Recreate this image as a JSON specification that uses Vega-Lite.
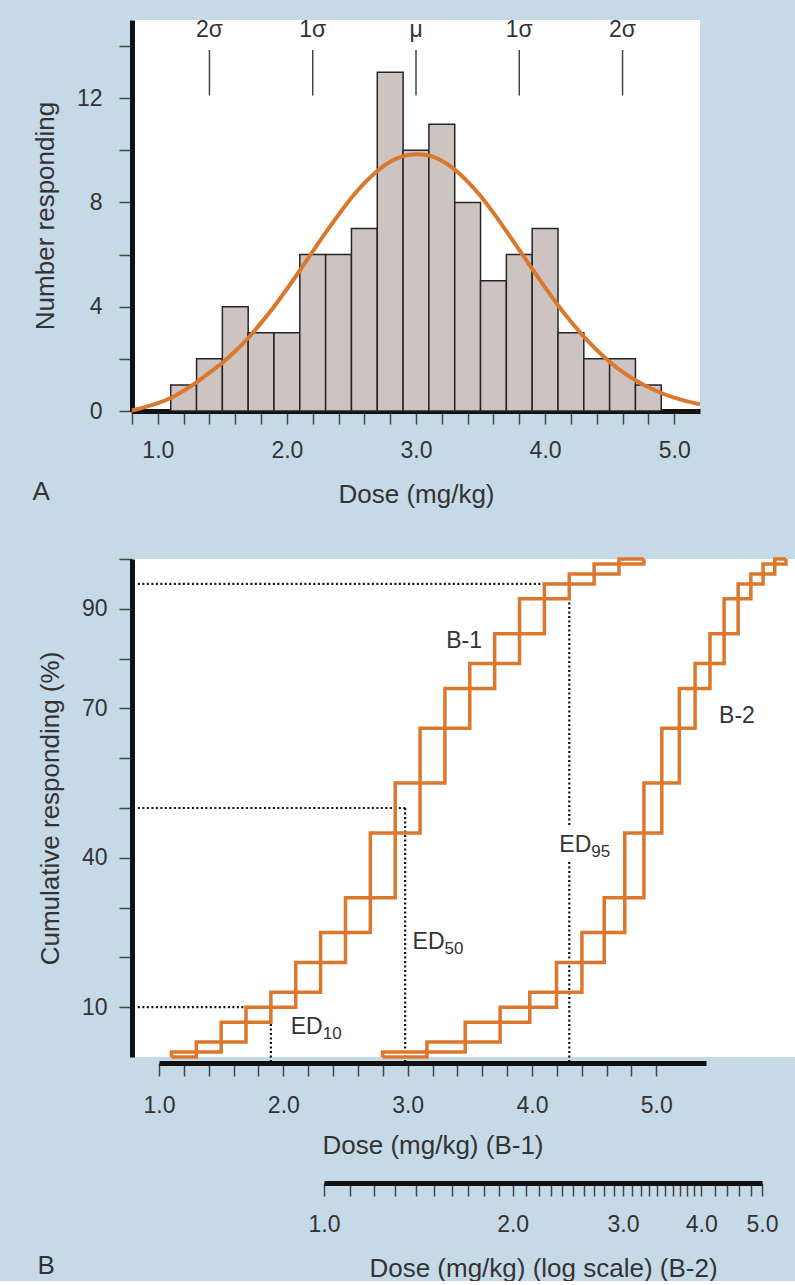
{
  "$schema": "https://vega.github.io/schema/vega-lite/v6.json",
  "background": "#c6d9e7",
  "padding": {"left": 32, "top": 19, "right": 0, "bottom": 0},
  "spacing": 41,
  "config": {
    "font": "Liberation Sans",
    "view": {"stroke": null, "fill": "white"},
    "text": {"font": "Liberation Sans", "color": "#333"},
    "title": {"font": "Liberation Sans", "fontWeight": "normal", "color": "#333", "fontSize": 26},
    "axis": {
      "domainColor": "#111", "domainWidth": 5, "tickColor": "#444", "tickWidth": 1.5, "tickSize": 13,
      "labelFontSize": 23, "titleFontSize": 26, "labelColor": "#333", "titleColor": "#333",
      "labelFont": "Liberation Sans", "titleFont": "Liberation Sans", "titleFontWeight": "normal",
      "grid": false, "labelFlush": false, "labelOverlap": false, "tickCount": 200
    }
  },
  "datasets": {
    "hist": [
      {"lo": 1.1, "hi": 1.3, "n": 1}, {"lo": 1.3, "hi": 1.5, "n": 2}, {"lo": 1.5, "hi": 1.7, "n": 4},
      {"lo": 1.7, "hi": 1.9, "n": 3}, {"lo": 1.9, "hi": 2.1, "n": 3}, {"lo": 2.1, "hi": 2.3, "n": 6},
      {"lo": 2.3, "hi": 2.5, "n": 6}, {"lo": 2.5, "hi": 2.7, "n": 7}, {"lo": 2.7, "hi": 2.9, "n": 13},
      {"lo": 2.9, "hi": 3.1, "n": 10}, {"lo": 3.1, "hi": 3.3, "n": 11}, {"lo": 3.3, "hi": 3.5, "n": 8},
      {"lo": 3.5, "hi": 3.7, "n": 5}, {"lo": 3.7, "hi": 3.9, "n": 6}, {"lo": 3.9, "hi": 4.1, "n": 7},
      {"lo": 4.1, "hi": 4.3, "n": 3}, {"lo": 4.3, "hi": 4.5, "n": 2}, {"lo": 4.5, "hi": 4.7, "n": 2},
      {"lo": 4.7, "hi": 4.9, "n": 1}
    ],
    "curve": [
      {"x": 0.8, "y": 0.02}, {"x": 0.9, "y": 0.15}, {"x": 1.0, "y": 0.3}, {"x": 1.1, "y": 0.5},
      {"x": 1.2, "y": 0.78}, {"x": 1.3, "y": 1.1}, {"x": 1.4, "y": 1.47}, {"x": 1.5, "y": 1.85},
      {"x": 1.6, "y": 2.29}, {"x": 1.7, "y": 2.8}, {"x": 1.8, "y": 3.38}, {"x": 1.9, "y": 4.0},
      {"x": 2.0, "y": 4.68}, {"x": 2.1, "y": 5.39}, {"x": 2.2, "y": 6.12}, {"x": 2.3, "y": 6.84},
      {"x": 2.4, "y": 7.53}, {"x": 2.5, "y": 8.18}, {"x": 2.6, "y": 8.74}, {"x": 2.7, "y": 9.21},
      {"x": 2.8, "y": 9.56}, {"x": 2.9, "y": 9.78}, {"x": 3.0, "y": 9.85}, {"x": 3.1, "y": 9.8},
      {"x": 3.2, "y": 9.6}, {"x": 3.3, "y": 9.26}, {"x": 3.4, "y": 8.8}, {"x": 3.5, "y": 8.25},
      {"x": 3.6, "y": 7.6}, {"x": 3.7, "y": 6.9}, {"x": 3.8, "y": 6.18}, {"x": 3.9, "y": 5.45},
      {"x": 4.0, "y": 4.74}, {"x": 4.1, "y": 4.06}, {"x": 4.2, "y": 3.43}, {"x": 4.3, "y": 2.85},
      {"x": 4.4, "y": 2.34}, {"x": 4.5, "y": 1.89}, {"x": 4.6, "y": 1.5}, {"x": 4.7, "y": 1.18},
      {"x": 4.8, "y": 0.91}, {"x": 4.9, "y": 0.69}, {"x": 5.0, "y": 0.51}, {"x": 5.1, "y": 0.37},
      {"x": 5.2, "y": 0.26}
    ],
    "sigma": [
      {"x": 1.4, "label": "2σ"}, {"x": 2.2, "label": "1σ"}, {"x": 3.0, "label": "μ"},
      {"x": 3.8, "label": "1σ"}, {"x": 4.6, "label": "2σ"}
    ],
    "b1": [
      {"s": "L", "i": 0, "x": 1.1, "y": 0}, {"s": "L", "i": 1, "x": 1.1, "y": 1}, {"s": "L", "i": 2, "x": 1.3, "y": 3},
      {"s": "L", "i": 3, "x": 1.5, "y": 7}, {"s": "L", "i": 4, "x": 1.7, "y": 10}, {"s": "L", "i": 5, "x": 1.9, "y": 13},
      {"s": "L", "i": 6, "x": 2.1, "y": 19}, {"s": "L", "i": 7, "x": 2.3, "y": 25}, {"s": "L", "i": 8, "x": 2.5, "y": 32},
      {"s": "L", "i": 9, "x": 2.7, "y": 45}, {"s": "L", "i": 10, "x": 2.9, "y": 55}, {"s": "L", "i": 11, "x": 3.1, "y": 66},
      {"s": "L", "i": 12, "x": 3.3, "y": 74}, {"s": "L", "i": 13, "x": 3.5, "y": 79}, {"s": "L", "i": 14, "x": 3.7, "y": 85},
      {"s": "L", "i": 15, "x": 3.9, "y": 92}, {"s": "L", "i": 16, "x": 4.1, "y": 95}, {"s": "L", "i": 17, "x": 4.3, "y": 97},
      {"s": "L", "i": 18, "x": 4.5, "y": 99}, {"s": "L", "i": 19, "x": 4.7, "y": 100}, {"s": "L", "i": 20, "x": 4.9, "y": 100},
      {"s": "R", "i": 0, "x": 1.1, "y": 0}, {"s": "R", "i": 1, "x": 1.3, "y": 1}, {"s": "R", "i": 2, "x": 1.5, "y": 3},
      {"s": "R", "i": 3, "x": 1.7, "y": 7}, {"s": "R", "i": 4, "x": 1.9, "y": 10}, {"s": "R", "i": 5, "x": 2.1, "y": 13},
      {"s": "R", "i": 6, "x": 2.3, "y": 19}, {"s": "R", "i": 7, "x": 2.5, "y": 25}, {"s": "R", "i": 8, "x": 2.7, "y": 32},
      {"s": "R", "i": 9, "x": 2.9, "y": 45}, {"s": "R", "i": 10, "x": 3.1, "y": 55}, {"s": "R", "i": 11, "x": 3.3, "y": 66},
      {"s": "R", "i": 12, "x": 3.5, "y": 74}, {"s": "R", "i": 13, "x": 3.7, "y": 79}, {"s": "R", "i": 14, "x": 3.9, "y": 85},
      {"s": "R", "i": 15, "x": 4.1, "y": 92}, {"s": "R", "i": 16, "x": 4.3, "y": 95}, {"s": "R", "i": 17, "x": 4.5, "y": 97},
      {"s": "R", "i": 18, "x": 4.7, "y": 99}, {"s": "R", "i": 19, "x": 4.9, "y": 100}
    ],
    "b2": [
      {"s": "L", "i": 0, "x": 1.24, "y": 0}, {"s": "L", "i": 1, "x": 1.24, "y": 1}, {"s": "L", "i": 2, "x": 1.46, "y": 3},
      {"s": "L", "i": 3, "x": 1.68, "y": 7}, {"s": "L", "i": 4, "x": 1.91, "y": 10}, {"s": "L", "i": 5, "x": 2.13, "y": 13},
      {"s": "L", "i": 6, "x": 2.35, "y": 19}, {"s": "L", "i": 7, "x": 2.58, "y": 25}, {"s": "L", "i": 8, "x": 2.8, "y": 32},
      {"s": "L", "i": 9, "x": 3.02, "y": 45}, {"s": "L", "i": 10, "x": 3.24, "y": 55}, {"s": "L", "i": 11, "x": 3.46, "y": 66},
      {"s": "L", "i": 12, "x": 3.69, "y": 74}, {"s": "L", "i": 13, "x": 3.91, "y": 79}, {"s": "L", "i": 14, "x": 4.13, "y": 85},
      {"s": "L", "i": 15, "x": 4.35, "y": 92}, {"s": "L", "i": 16, "x": 4.58, "y": 95}, {"s": "L", "i": 17, "x": 4.8, "y": 97},
      {"s": "L", "i": 18, "x": 5.02, "y": 99}, {"s": "L", "i": 19, "x": 5.24, "y": 100}, {"s": "L", "i": 20, "x": 5.46, "y": 100},
      {"s": "R", "i": 0, "x": 1.24, "y": 0}, {"s": "R", "i": 1, "x": 1.46, "y": 1}, {"s": "R", "i": 2, "x": 1.68, "y": 3},
      {"s": "R", "i": 3, "x": 1.91, "y": 7}, {"s": "R", "i": 4, "x": 2.13, "y": 10}, {"s": "R", "i": 5, "x": 2.35, "y": 13},
      {"s": "R", "i": 6, "x": 2.58, "y": 19}, {"s": "R", "i": 7, "x": 2.8, "y": 25}, {"s": "R", "i": 8, "x": 3.02, "y": 32},
      {"s": "R", "i": 9, "x": 3.24, "y": 45}, {"s": "R", "i": 10, "x": 3.46, "y": 55}, {"s": "R", "i": 11, "x": 3.69, "y": 66},
      {"s": "R", "i": 12, "x": 3.91, "y": 74}, {"s": "R", "i": 13, "x": 4.13, "y": 79}, {"s": "R", "i": 14, "x": 4.35, "y": 85},
      {"s": "R", "i": 15, "x": 4.58, "y": 92}, {"s": "R", "i": 16, "x": 4.8, "y": 95}, {"s": "R", "i": 17, "x": 5.02, "y": 97},
      {"s": "R", "i": 18, "x": 5.24, "y": 99}, {"s": "R", "i": 19, "x": 5.46, "y": 100}
    ],
    "refs": [
      {"x": 0.83, "x2": 1.9, "y": 10, "y2": 10}, {"x": 1.9, "x2": 1.9, "y": -1, "y2": 10},
      {"x": 0.83, "x2": 2.98, "y": 50, "y2": 50}, {"x": 2.98, "x2": 2.98, "y": -1, "y2": 50},
      {"x": 0.83, "x2": 4.3, "y": 95, "y2": 95}, {"x": 4.3, "x2": 4.3, "y": -1, "y2": 39.3},
      {"x": 4.3, "x2": 4.3, "y": 46.6, "y2": 95}
    ],
    "ed": [
      {"t": "ED", "sub": "10", "x": 2.06, "y": 6.0},
      {"t": "ED", "sub": "50", "x": 3.04, "y": 23},
      {"t": "ED", "sub": "95", "x": 4.22, "y": 42.5}
    ],
    "lab1": [{"t": "B-1", "x": 3.31, "y": 83.5}],
    "lab2": [{"t": "B-2", "x": 4.27, "y": 68.5}]
  },
  "vconcat": [
    {
      "width": 568,
      "height": 391,
      "title": {"text": "A", "orient": "bottom", "anchor": "start", "frame": "bounds", "offset": -28},
      "layer": [
        {
          "data": {"name": "hist"},
          "mark": {"type": "bar", "fill": "#cdc4c2", "stroke": "#262626", "strokeWidth": 1.5},
          "encoding": {
            "x": {"field": "lo", "type": "quantitative",
              "scale": {"domain": [0.8, 5.2], "nice": false, "zero": false},
              "axis": {"title": "Dose (mg/kg)", "labelPadding": 15, "titlePadding": 19, "labelOverlap": false, "labelBound": false, "tickCount": 200,
                "values": [0.8, 1.0, 1.2, 1.4, 1.6, 1.8, 2.0, 2.2, 2.4, 2.6, 2.8, 3.0, 3.2, 3.4, 3.6, 3.8, 4.0, 4.2, 4.4, 4.6, 4.8, 5.0],
                "labelExpr": "abs(datum.value - round(datum.value)) < 0.01 ? format(datum.value, '.1f') : ''"}},
            "x2": {"field": "hi"},
            "y": {"field": "n", "type": "quantitative",
              "scale": {"domain": [0, 15], "nice": false},
              "axis": {"title": "Number responding", "labelPadding": 17, "titlePadding": 18, "labelOverlap": false, "tickCount": 200,
                "values": [0, 2, 4, 6, 8, 10, 12, 14],
                "labelExpr": "datum.value % 4 === 0 ? format(datum.value, 'd') : ''"}},
            "y2": {"datum": 0}
          }
        },
        {
          "data": {"name": "curve"},
          "mark": {"type": "line", "color": "#db782e", "strokeWidth": 4, "interpolate": "monotone"},
          "encoding": {
            "x": {"field": "x", "type": "quantitative"},
            "y": {"field": "y", "type": "quantitative"}
          }
        },
        {
          "data": {"name": "sigma"},
          "mark": {"type": "rule", "stroke": "#444", "strokeWidth": 1.5},
          "encoding": {
            "x": {"field": "x", "type": "quantitative"},
            "y": {"datum": 12.1},
            "y2": {"datum": 13.85}
          }
        },
        {
          "data": {"name": "sigma"},
          "mark": {"type": "text", "fontSize": 23, "baseline": "middle", "align": "center"},
          "encoding": {
            "x": {"field": "x", "type": "quantitative"},
            "y": {"datum": 14.6},
            "text": {"field": "label"}
          }
        }
      ]
    },
    {
      "width": 664,
      "height": 498,
      "title": {"text": "B", "orient": "bottom", "anchor": "start", "frame": "bounds", "offset": -28},
      "resolve": {"scale": {"x": "independent"}, "axis": {"x": "independent"}},
      "layer": [
        {
          "layer": [
            {
              "data": {"name": "refs"},
              "mark": {"type": "rule", "stroke": "#111", "strokeWidth": 2.2, "strokeDash": [2, 2.5]},
              "encoding": {
                "x": {"field": "x", "type": "quantitative",
                  "scale": {"domain": [1, 5.4], "range": [27, 574], "nice": false, "zero": false},
                  "axis": {"title": "Dose (mg/kg) (B-1)", "orient": "bottom", "offset": 6, "labelPadding": 18, "titlePadding": 15, "labelOverlap": false, "labelBound": false, "tickCount": 200,
                    "values": [1.0, 1.2, 1.4, 1.6, 1.8, 2.0, 2.2, 2.4, 2.6, 2.8, 3.0, 3.2, 3.4, 3.6, 3.8, 4.0, 4.2, 4.4, 4.6, 4.8, 5.0],
                    "labelExpr": "abs(datum.value - round(datum.value)) < 0.01 ? format(datum.value, '.1f') : ''"}},
                "x2": {"field": "x2"},
                "y": {"field": "y", "type": "quantitative",
                  "scale": {"domain": [0, 100], "nice": false},
                  "axis": {"title": "Cumulative responding (%)", "labelPadding": 12, "titlePadding": 18, "labelOverlap": false, "tickCount": 200,
                    "values": [10, 20, 30, 40, 50, 60, 70, 80, 90, 100],
                    "labelExpr": "indexof([10, 40, 70, 90], datum.value) >= 0 ? format(datum.value, 'd') : ''"}},
                "y2": {"field": "y2"}
              }
            },
            {
              "data": {"name": "b1"},
              "mark": {"type": "line", "color": "#db782e", "strokeWidth": 3.5, "interpolate": "step-after"},
              "encoding": {
                "x": {"field": "x", "type": "quantitative"},
                "y": {"field": "y", "type": "quantitative"},
                "detail": {"field": "s"},
                "order": {"field": "i"}
              }
            },
            {
              "data": {"name": "ed"},
              "mark": {"type": "text", "fontSize": 23, "align": "left", "baseline": "middle"},
              "encoding": {
                "x": {"field": "x", "type": "quantitative"},
                "y": {"field": "y", "type": "quantitative"},
                "text": {"field": "t"}
              }
            },
            {
              "data": {"name": "ed"},
              "mark": {"type": "text", "fontSize": 17, "align": "left", "baseline": "middle", "dx": 32, "dy": 7},
              "encoding": {
                "x": {"field": "x", "type": "quantitative"},
                "y": {"field": "y", "type": "quantitative"},
                "text": {"field": "sub"}
              }
            },
            {
              "data": {"name": "lab1"},
              "mark": {"type": "text", "fontSize": 23, "align": "left", "baseline": "middle"},
              "encoding": {
                "x": {"field": "x", "type": "quantitative"},
                "y": {"field": "y", "type": "quantitative"},
                "text": {"field": "t"}
              }
            }
          ]
        },
        {
          "layer": [
            {
              "data": {"name": "b2"},
              "mark": {"type": "line", "color": "#db782e", "strokeWidth": 3.5, "interpolate": "step-after"},
              "encoding": {
                "x": {"field": "x", "type": "quantitative",
                  "scale": {"type": "log", "domain": [1, 5], "range": [192, 630], "nice": false},
                  "axis": {"title": "Dose (mg/kg) (log scale) (B-2)", "orient": "bottom", "offset": 126, "labelPadding": 17, "titlePadding": 19, "labelOverlap": false, "labelBound": false, "tickCount": 200,
                    "values": [1.0, 1.1, 1.2, 1.3, 1.4, 1.5, 1.6, 1.7, 1.8, 1.9, 2.0, 2.1, 2.2, 2.3, 2.4, 2.5, 2.6, 2.7, 2.8, 2.9, 3.0, 3.1, 3.2, 3.3, 3.4, 3.5, 3.6, 3.7, 3.8, 3.9, 4.0, 4.2, 4.4, 4.6, 4.8, 5.0],
                    "labelExpr": "abs(datum.value - round(datum.value)) < 0.01 ? format(datum.value, '.1f') : ''"}},
                "y": {"field": "y", "type": "quantitative"},
                "detail": {"field": "s"},
                "order": {"field": "i"}
              }
            },
            {
              "data": {"name": "lab2"},
              "mark": {"type": "text", "fontSize": 23, "align": "left", "baseline": "middle"},
              "encoding": {
                "x": {"field": "x", "type": "quantitative"},
                "y": {"field": "y", "type": "quantitative"},
                "text": {"field": "t"}
              }
            }
          ]
        }
      ]
    }
  ]
}
